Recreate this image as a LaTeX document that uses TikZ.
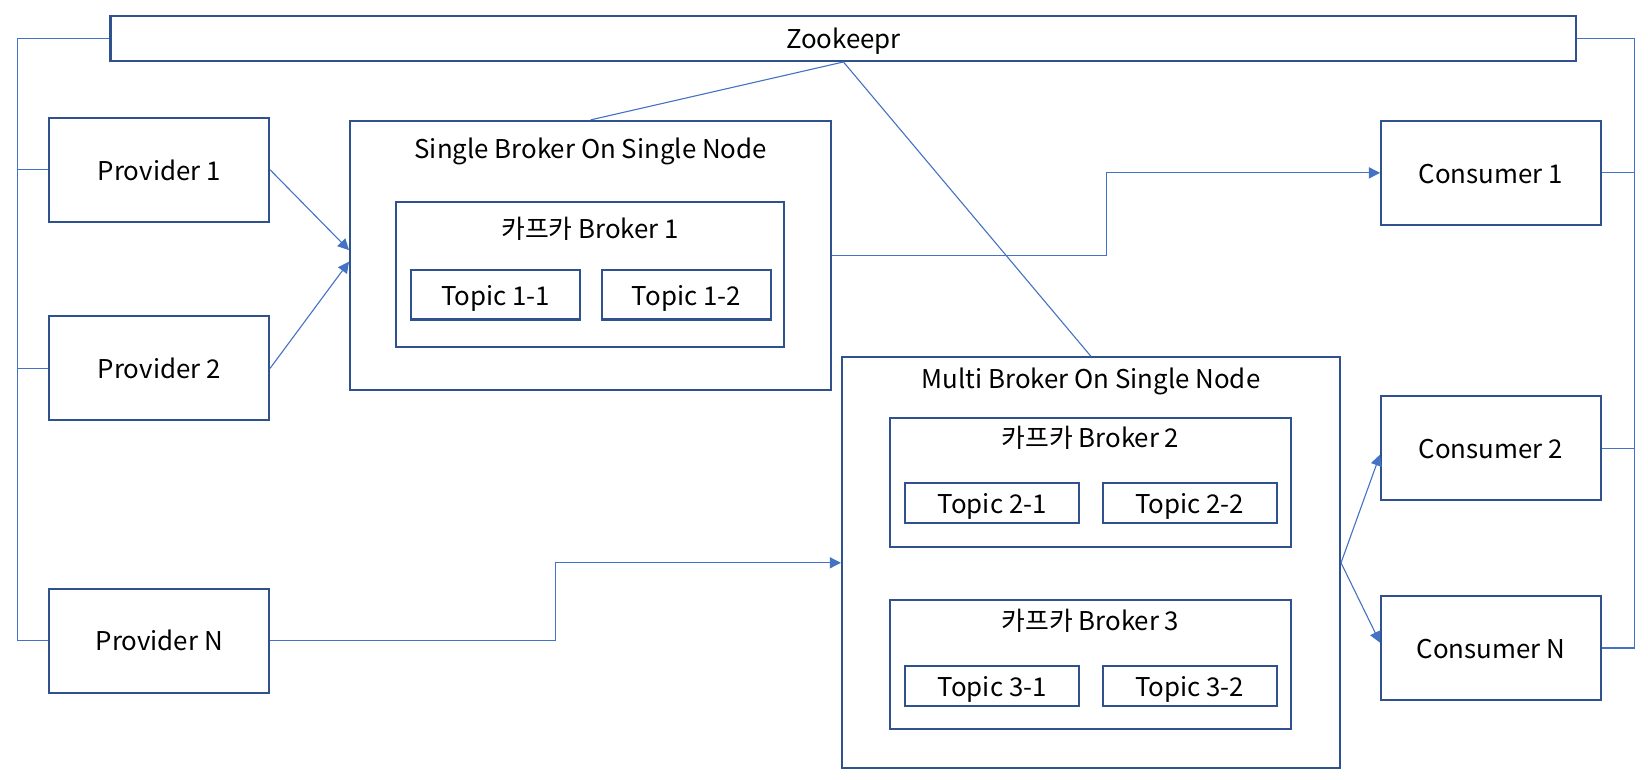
\documentclass[tikz,border=0pt]{standalone}
\usepackage{fontspec}
\setmainfont{Noto Sans CJK KR}
\usetikzlibrary{arrows.meta,calc}
\definecolor{boxblue}{HTML}{2F528F}
\definecolor{linkblue}{HTML}{4472C4}

\begin{document}
\begin{tikzpicture}[x=0.02cm,y=-0.02cm,
	every node/.style={font=\fontsize{14}{16}\selectfont,text height=14pt,text depth=2.8pt},
	box/.style={draw=boxblue,line width=1.1pt,inner sep=0pt},
	client/.style={box,minimum width=4.18cm,minimum height=1.98cm},
	topic/.style={box,minimum width=3.22cm,minimum height=0.94cm},
	link/.style={draw=linkblue,line width=0.6pt},
	arr/.style={link,-{Triangle[length=6pt,width=6pt]}}]
	%% canvas
	\useasboundingbox (0,0) rectangle (1568,742);
	
	\def\busL{17} % left bus
	\def\busR{1555} % right bus
	
	% zookeeper
	\node[box,minimum width=27.9cm,minimum height=0.86cm] (zoo) at (802.5,36.5) {Zookeepr};
	
	% providers
	\node[client] (prov1) at (151.5,161.5) {Provider 1};
	\node[client] (prov2) at (151.5,350.5) {Provider 2};
	\node[client] (provN) at (151.5,609.5) {Provider N};
	
	% consumers
	\node[client] (cons1) at (1418.5,164.5) {Consumer 1};
	\node[client] (cons2) at (1418.5,426.5) {Consumer 2};
	\node[client] (consN) at (1418.5,616.5) {Consumer N};
	
	% single broker
	\node[box,minimum width=9.16cm,minimum height=5.12cm] (single) at (562,243) {};
	\node (singletitle) at (562,141) {Single Broker On Single Node};
	\node[box,minimum width=7.38cm,minimum height=2.76cm] (broker1) at (561.5,261) {};
	\node (broker1title) at (561.5,217) {카프카 Broker 1};
	\node[topic] (topic11) at (471.5,280.5) {Topic 1-1};
	\node[topic] (topic12) at (653,280.5) {Topic 1-2};
	
	% multi broker
	\node[box,minimum width=9.48cm,minimum height=7.82cm] (multi) at (1038,535.5) {};
	\node (multititle) at (1038,360) {Multi Broker On Single Node};
	\node[box,minimum width=7.62cm,minimum height=2.44cm] (broker2) at (1037.5,459) {};
	\node (broker2title) at (1037.5,416) {카프카 Broker 2};
	\node[topic,minimum width=3.32cm,minimum height=0.76cm] (topic21) at (944,479) {Topic 2-1};
	\node[topic,minimum width=3.32cm,minimum height=0.76cm] (topic22) at (1132,479) {Topic 2-2};
	\node[box,minimum width=7.62cm,minimum height=2.46cm] (broker3) at (1037.5,632.5) {};
	\node (broker3title) at (1037.5,590) {카프카 Broker 3};
	\node[topic,minimum width=3.32cm,minimum height=0.76cm] (topic31) at (944,652.5) {Topic 3-1};
	\node[topic,minimum width=3.32cm,minimum height=0.76cm] (topic32) at (1132,652.5) {Topic 3-2};
	
	% zookeeper buses
	\coordinate (lbus) at (\busL,609.5);
	\coordinate (rbus) at (\busR,616.5);
	\draw[link] (zoo.west) -| (lbus) -- (provN.west);
	\draw[link] (prov1.west) -- (prov1.west -| lbus);
	\draw[link] (prov2.west) -- (prov2.west -| lbus);
	\draw[link] (zoo.east) -| (rbus) -- (consN.east);
	\draw[link] (cons1.east) -- (cons1.east -| rbus);
	\draw[link] (cons2.east) -- (cons2.east -| rbus);
	\draw[link] (zoo.south) -- (single.north);
	\draw[link] (zoo.south) -- (multi.north);
	
	% data flow
	\draw[arr] (prov1.east) -- ($(single.west)+(0,-5)$);
	\draw[arr] (prov2.east) -- ($(single.west)+(0,6)$);
	\draw[arr] (provN.east) -| ($(provN.east)!.5!(multi.west)$) |- (multi.west);
	\draw[arr] (single.east) -| ($(single.east)!.5!(cons1.west)$) |- (cons1.west);
	\draw[arr] (multi.east) -- ($(cons2.west)+(0,6)$);
	\draw[arr] (multi.east) -- ($(consN.west)+(0,-5)$);
	
\end{tikzpicture}
\end{document}
